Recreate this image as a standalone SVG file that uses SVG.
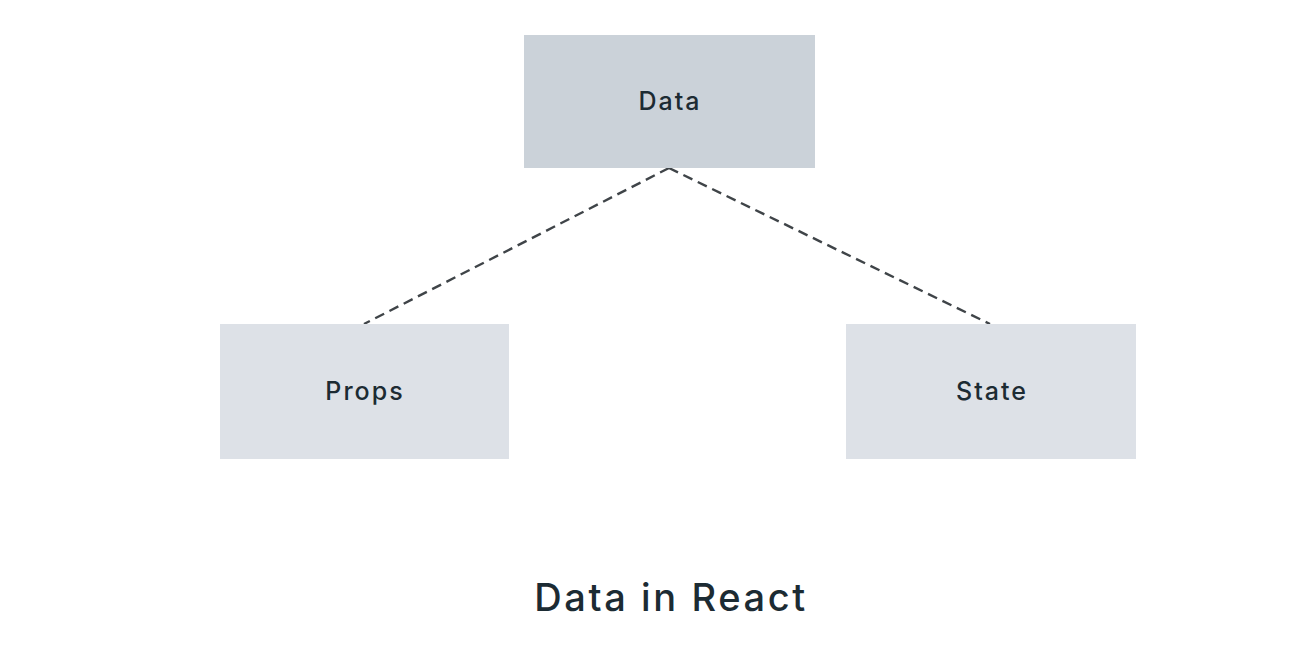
<svg xmlns="http://www.w3.org/2000/svg" width="1313" height="649" viewBox="0 0 1313 649">
<style>
.lbl{font-family:Inter,"Noto Sans",sans-serif;font-size:25px;font-weight:500;letter-spacing:2px;fill:#1c2b33;text-anchor:middle;dominant-baseline:central}
.title{font-family:Inter,"Noto Sans",sans-serif;font-size:38px;font-weight:500;letter-spacing:2.6px;fill:#1c2b33;text-anchor:middle}
.conn{stroke:#3f4448;stroke-width:2.4;stroke-dasharray:10 6;fill:none}
</style>
<rect width="1313" height="649" fill="#ffffff"/>
<g id="connectors">
<line class="conn" x1="669" y1="168" x2="364" y2="324"/>
<line class="conn" x1="669" y1="168" x2="990" y2="324"/>
</g>
<g id="data">
<rect x="524" y="35" width="291" height="133" fill="#cbd2d9"/>
<text class="lbl" x="670" y="101">Data</text>
</g>
<g id="props">
<rect x="220" y="324" width="289" height="135" fill="#dde1e7"/>
<text class="lbl" x="365" y="391">Props</text>
</g>
<g id="state">
<rect x="846" y="324" width="290" height="135" fill="#dde1e7"/>
<text class="lbl" x="992" y="391">State</text>
</g>
<text class="title" x="671" y="611">Data in React</text>
</svg>
